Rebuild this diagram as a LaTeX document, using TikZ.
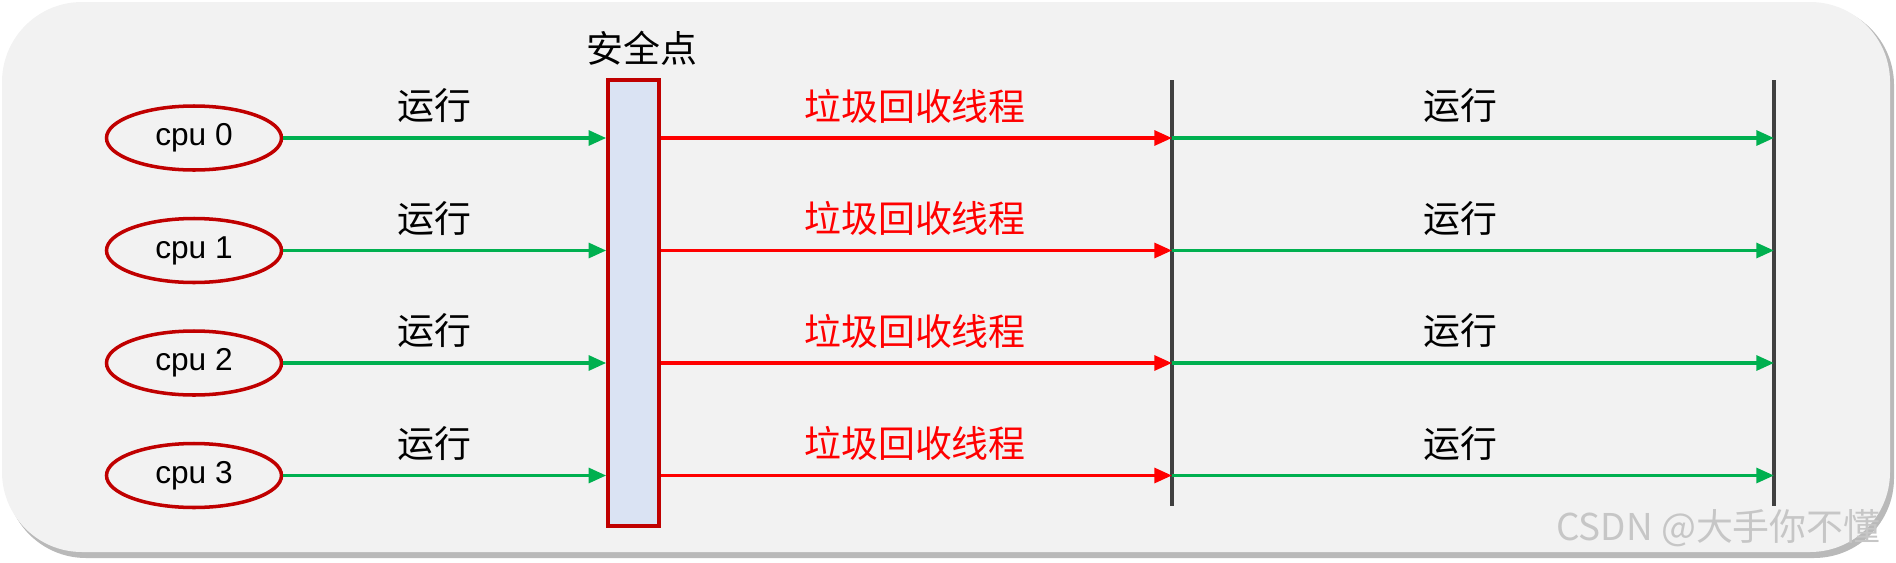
\documentclass[tikz,border=0pt]{standalone}
\usepackage{fontspec}
\setmainfont{Liberation Sans}
\newfontfamily\cjk{Noto Sans CJK SC}
\usetikzlibrary{arrows.meta,shapes.geometric}
\definecolor{runG}{HTML}{00B050}
\definecolor{gcR}{HTML}{FF0000}
\definecolor{darkR}{HTML}{C00000}
\definecolor{barB}{HTML}{DAE3F3}
\definecolor{bgG}{HTML}{F2F2F2}
\definecolor{lineG}{HTML}{404040}
\begin{document}
\begin{tikzpicture}[>={Triangle[length=5pt,width=4.2pt]},
  cpu/.style={ellipse,draw=darkR,line width=1pt,minimum width=1.75cm,minimum height=0.64cm,inner sep=0pt,font=\fontsize{9}{10}\selectfont},
  run/.style={->,draw=runG,line width=1pt},
  gc/.style={->,draw=gcR,line width=1pt},
  lbl/.style={font=\fontsize{10.5}{12}\selectfont\cjk},
  stop/.style={draw=lineG,line width=1.1pt}]
\useasboundingbox (0,0) rectangle (18.96,5.62);
\fill[gray!55,rounded corners=0.8cm] (0.06,0.04) rectangle (18.94,5.57);
\fill[bgG,rounded corners=0.8cm] (0.02,0.1) rectangle (18.9,5.6);
\node[draw=darkR,fill=barB,line width=1pt,minimum width=0.51cm,minimum height=4.46cm,inner sep=0pt] (bar) at (6.335,2.59) {};
\node[lbl] (safe) at (6.42,5.14) {安全点};
\coordinate (gctop) at (11.72,4.82);
\coordinate (gcbot) at (11.72,0.565);
\coordinate (runtop) at (17.74,4.82);
\coordinate (runbot) at (17.74,0.565);
\draw[stop] (gctop) -- (gcbot);
\draw[stop] (runtop) -- (runbot);
\foreach \i/\y in {0/4.24,1/3.115,2/1.99,3/0.865}{
  \node[cpu] (cpu\i) at (1.94,\y) {cpu \i};
  \draw[run] (cpu\i) -- (cpu\i -| bar.west);
  \draw[gc] (cpu\i -| bar.east) -- (cpu\i -| gctop);
  \draw[run] (cpu\i -| gctop) -- (cpu\i -| runtop);
  \node[lbl] (runA\i) at (4.34,\y+0.32) {运行};
  \node[lbl,text=gcR] (gc\i) at (9.15,\y+0.32) {垃圾回收线程};
  \node[lbl] (runB\i) at (14.6,\y+0.32) {运行};
}
\node[lbl,anchor=east,text=gray!45] (mark) at (18.93,0.34) {CSDN @大手你不懂};
\end{tikzpicture}
\end{document}
